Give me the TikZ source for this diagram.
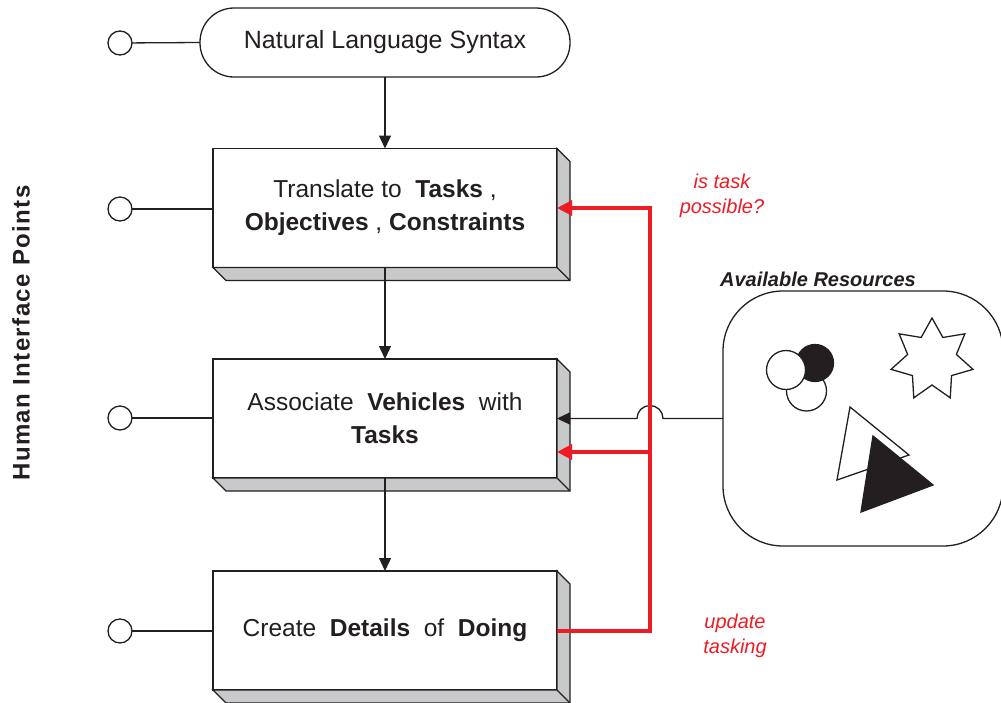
\documentclass[tikz,border=0pt]{standalone}
\usepackage{fontspec}
\setmainfont{Liberation Sans}
\usetikzlibrary{arrows.meta,calc}
\definecolor{ink}{HTML}{231F20}
\definecolor{flow}{HTML}{ED1C24}
\definecolor{slabgray}{HTML}{C8C9CB}
\newcommand{\slabshadow}[1]{%
  \filldraw[fill=slabgray, draw=ink, line width=1.3pt, line join=miter]
    (#1.north east) -- ++(13,13) -- ($(#1.south east)+(13,13)$) -- ($(#1.south west)+(13,13)$)
    -- (#1.south west) -- (#1.south east) -- cycle;
  \draw[ink, line width=1.3pt] (#1.south east) -- ++(13,13);
}
\begin{document}
\begin{tikzpicture}[x=1pt,y=-1pt,
  every node/.style={inner sep=0pt, outer sep=0pt},
  link/.style={draw=ink, line width=1.3pt},
  hip/.style={circle, draw=ink, line width=1.3pt, minimum size=24pt, fill=white},
  term/.style={draw=ink, line width=1.3pt, rounded corners=34pt, minimum width=370pt, minimum height=69pt, font=\fontsize{25}{32}\selectfont, text=ink},
  slab/.style={draw=ink, line width=1.3pt, fill=white, minimum width=344pt, minimum height=119pt, font=\fontsize{24.5}{33}\selectfont, align=center, text=ink},
  arr/.style={-{Triangle[length=13pt,width=12pt]}},
  redarr/.style={-{Triangle[length=15pt,width=15pt]}},
  redline/.style={draw=flow, line width=3.5pt},
  note/.style={text=flow, font=\fontsize{20}{25}\selectfont\itshape, align=center},
  figline/.style={draw=ink, line width=1.3pt}
]
\useasboundingbox (0,0) rectangle (1001,702);

% terminal
\node[term] (t) at (385,42.5) {\raisebox{-1.5pt}{Natural Language Syntax}};
\node[hip] (c0) at (120,43) {};
\draw[link] (c0) -- (t.west);

% slabs
\node[slab] (d1) at (385,208) {Translate to~~\textbf{Tasks} ,\\\textbf{Objectives} , \textbf{Constraints}};
\slabshadow{d1}
\node[slab] (d2) at (385,418.5) {Associate~~\textbf{Vehicles}~~with\\\textbf{Tasks}};
\slabshadow{d2}
\node[slab] (d3) at (385,630.5) {Create~~\textbf{Details}~~of~~\textbf{Doing}};
\slabshadow{d3}

\node[hip] (c1) at (120,209) {};
\node[hip] (c2) at (120,418) {};
\node[hip] (c3) at (120,631) {};
\draw[link] (c1) -- (c1 -| d1.west);
\draw[link] (c2) -- (c2 -| d2.west);
\draw[link] (c3) -- (c3 -| d3.west);

% main flow
\draw[link, arr] (t.south) -- (d1.north);
\draw[link, arr] (d1.south) -- (d2.north);
\draw[link, arr] (d2.south) -- (d3.north);

% resources
\node[draw=ink, line width=1.3pt, rounded corners=60pt, minimum width=280pt, minimum height=255pt] (res) at (863,418.5) {};
\node[font=\fontsize{20}{24}\selectfont\bfseries\itshape, text=ink] (restitle) at (818,279) {Available Resources};

% shapes inside resources
\draw[figline, fill=white] (806.5,391) circle[radius=20];
\draw[figline, fill=ink] (815,363) circle[radius=18.5];
\draw[figline, fill=white] (786,370) circle[radius=19.5];
\coordinate (star) at (932,360);
\draw[figline, fill=white, line join=miter] ($(star)+(-90:42)$)
  \foreach \k in {0,...,6} { -- ($(star)+({-90+\k*360/7+180/7}:25)$) -- ($(star)+({-90+(\k+1)*360/7}:42)$) } -- cycle;
\draw[figline, fill=white] (850,407) -- (909,455) -- (837,480) -- cycle;
\draw[figline, fill=ink] (873,436) -- (933,485) -- (861,512) -- cycle;

% resources -> associate, with hop over red line
\coordinate (hopR) at (663,418.5);
\draw[link, arr] (res.west) -- (hopR) arc[start angle=0, end angle=-180, radius=13] -- (d2.east);

% red feedback
\coordinate (r1) at (650,208);
\coordinate (r2) at (650,452);
\coordinate (r3) at (650,631);
\draw[redline, redarr, line join=miter] (d3.east |- r3) -- (r3) -- (r1) -- (d1.east);
\draw[redline, redarr] (r2) -- (r2 -| d2.east);

% labels
\node[note] (n1) at (722,196) {is task\\possible?};
\node[note] (n2) at (735,636) {update\\tasking};
\node[rotate=90, font=\fontsize{24}{28}\selectfont\bfseries\addfontfeatures{LetterSpace=6}, text=ink] (hip) at (21,333) {Human Interface Points};
\end{tikzpicture}
\end{document}
